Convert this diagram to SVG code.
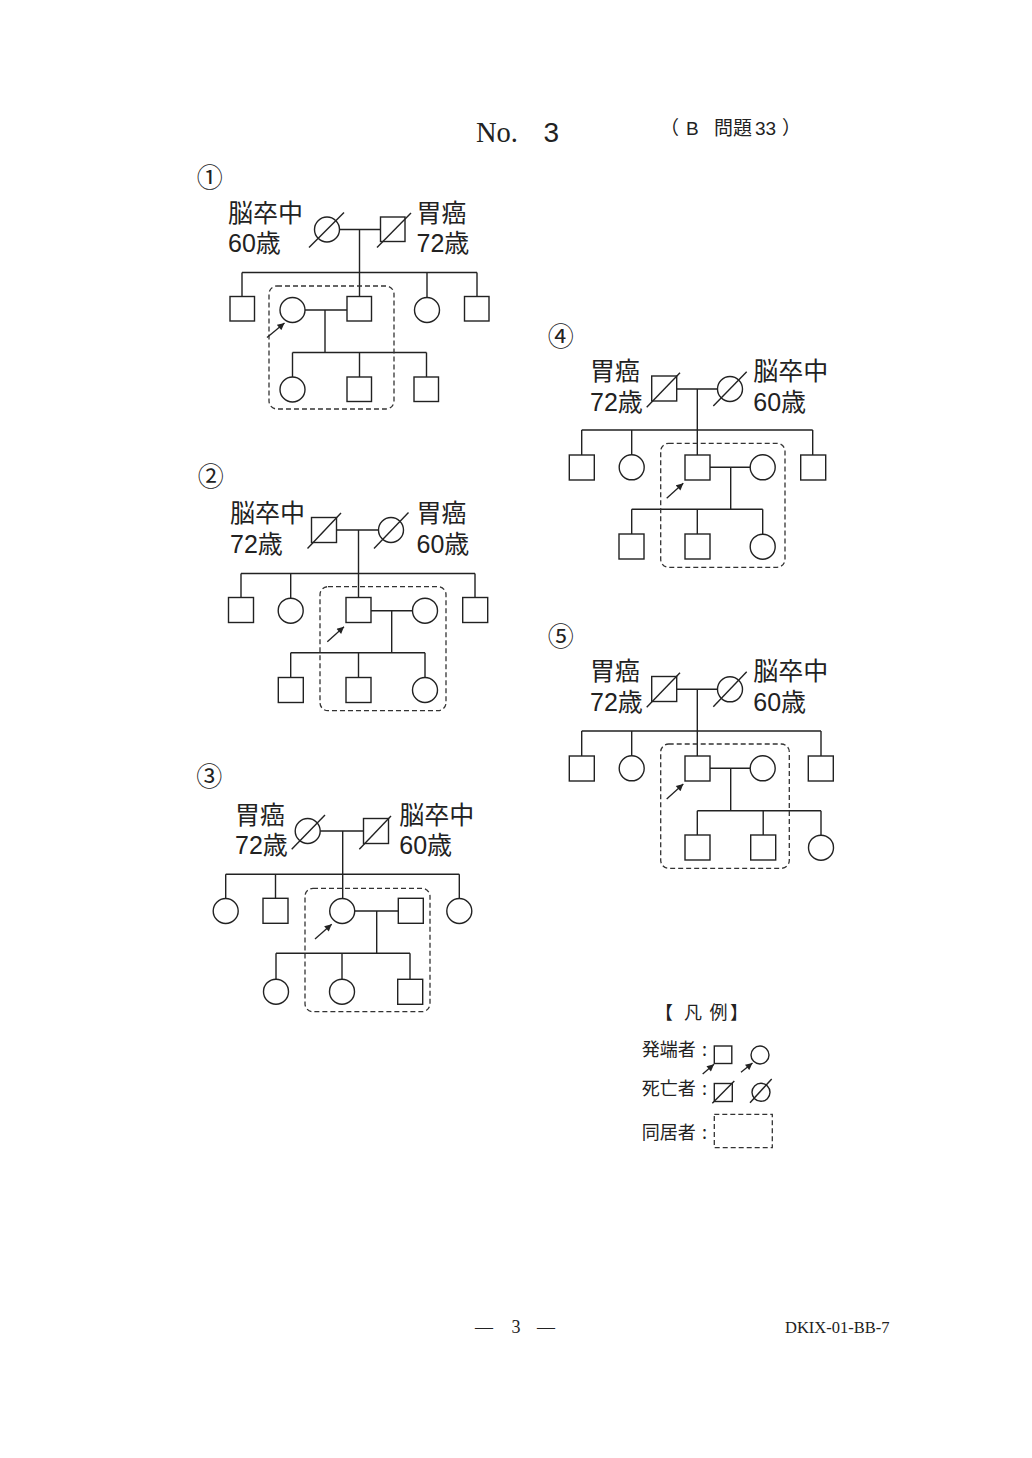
<svg xmlns="http://www.w3.org/2000/svg" width="1032" height="1458" viewBox="0 0 1032 1458">
<style>
.ln{stroke:#222;stroke-width:1.4;fill:none}
.sh{stroke:#222;stroke-width:1.4;fill:#fff}
.dbox{stroke:#333;stroke-width:1.3;fill:none;stroke-dasharray:5 3}
.ar{stroke:#222;stroke-width:1.3;fill:none;marker-end:url(#ah)}
.lbl{font-family:"Liberation Sans","Noto Sans CJK JP",sans-serif;font-size:25px;fill:#222}
.num{font-family:"Noto Sans CJK JP",sans-serif;font-size:26px;fill:#222;text-anchor:middle}
.leg{font-family:"Noto Sans CJK JP",sans-serif;font-size:18px;fill:#222}
.ser{font-family:"Liberation Serif","Noto Serif CJK JP",serif;fill:#222}
.sans{font-family:"Liberation Sans","Noto Sans CJK JP",sans-serif;fill:#222}
</style>
<defs>
<marker id="ah" viewBox="0 0 10 10" refX="10" refY="5" markerWidth="8.5" markerHeight="7" markerUnits="userSpaceOnUse" orient="auto"><path d="M0,0 L10,5 L0,10 z" fill="#222"/></marker>
</defs>
<rect width="1032" height="1458" fill="#fff"/>

<!-- header -->
<g id="header">
<text class="ser" x="476" y="141.5" font-size="30" textLength="42" lengthAdjust="spacingAndGlyphs">No.</text>
<text class="sans" x="543.5" y="141.5" font-size="28">3</text>
<text class="sans" font-size="19" y="135"><tspan x="660">（</tspan><tspan x="686">B</tspan><tspan x="714">問題</tspan><tspan x="755">33</tspan><tspan x="782">）</tspan></text>
</g>

<!-- ============ Diagram 1 ============ -->
<text class="num" x="209.7" y="186.5">①</text>
<g id="d1-labels">
<text class="lbl" x="228" y="221.5">脳卒中</text>
<text class="lbl" x="228" y="252">60歳</text>
<text class="lbl" x="416.5" y="221.5">胃癌</text>
<text class="lbl" x="416.5" y="252">72歳</text>
</g>
<g id="d1-connectors">
<path class="ln" d="M339.5,229.5H380.5M359.5,229.5V272.5M242,272.5H477M242,272.5V296.5M359.5,272.5V296.5M427,272.5V297.5M477,272.5V296.5"/>
<path class="ln" d="M305,310H347M325,310V352.5M292.5,352.5H426.5M292.5,352.5V377M359.5,352.5V377M426.5,352.5V377"/>
<rect class="dbox" x="269" y="286" width="125" height="123" rx="8"/>
<line class="ar" x1="267" y1="337.5" x2="284.5" y2="323"/>
</g>
<g id="d1-mother"><circle class="sh" cx="327" cy="229.5" r="12.5"/><line class="ln" x1="309" y1="247.5" x2="344" y2="212.5"/></g>
<g id="d1-father"><rect class="sh" x="380.5" y="217" width="24.5" height="24.5"/><line class="ln" x1="377" y1="247.5" x2="411" y2="213"/></g>
<g id="d1-c1"><rect class="sh" x="230" y="296.5" width="24.5" height="24.5"/></g>
<g id="d1-proband"><circle class="sh" cx="292.5" cy="310" r="12.5"/></g>
<g id="d1-c2"><rect class="sh" x="347" y="296.5" width="24.5" height="24.5"/></g>
<g id="d1-c3"><circle class="sh" cx="427" cy="310" r="12.5"/></g>
<g id="d1-c4"><rect class="sh" x="464.5" y="296.5" width="24.5" height="24.5"/></g>
<g id="d1-g1"><circle class="sh" cx="292.5" cy="389.5" r="12.5"/></g>
<g id="d1-g2"><rect class="sh" x="347" y="377" width="24.5" height="24.5"/></g>
<g id="d1-g3"><rect class="sh" x="414" y="377" width="24.5" height="24.5"/></g>

<!-- ============ Diagram 2 ============ -->
<text class="num" x="210.7" y="486">②</text>
<g id="d2-labels">
<text class="lbl" x="230" y="522">脳卒中</text>
<text class="lbl" x="230" y="552.5">72歳</text>
<text class="lbl" x="416.5" y="522">胃癌</text>
<text class="lbl" x="416.5" y="552.5">60歳</text>
</g>
<g id="d2-connectors">
<path class="ln" d="M336.5,530H378.5M358.5,530V573.5M241,573.5H475M241,573.5V597.5M290.7,573.5V598.2M358.5,573.5V597.5M475,573.5V597.5"/>
<path class="ln" d="M371,610.7H412.5M391.7,610.7V652.7M290.7,652.7H425M290.7,652.7V677.5M358.5,652.7V677.5M425,652.7V677.5"/>
<rect class="dbox" x="320" y="586.7" width="126" height="124" rx="8"/>
<line class="ar" x1="327.3" y1="641.7" x2="344" y2="626.7"/>
</g>
<g id="d2-father"><rect class="sh" x="311.5" y="517.5" width="25" height="25"/><line class="ln" x1="307.5" y1="548.5" x2="341" y2="513"/></g>
<g id="d2-mother"><circle class="sh" cx="391" cy="530" r="12.5"/><line class="ln" x1="374" y1="548.5" x2="408.5" y2="512.5"/></g>
<g id="d2-c1"><rect class="sh" x="228.5" y="597.5" width="25" height="25"/></g>
<g id="d2-c2"><circle class="sh" cx="290.7" cy="610.7" r="12.5"/></g>
<g id="d2-proband"><rect class="sh" x="346" y="597.5" width="25" height="25"/></g>
<g id="d2-spouse"><circle class="sh" cx="425" cy="610.7" r="12.5"/></g>
<g id="d2-c4"><rect class="sh" x="462.7" y="597.5" width="25" height="25"/></g>
<g id="d2-g1"><rect class="sh" x="278.3" y="677.5" width="25" height="25"/></g>
<g id="d2-g2"><rect class="sh" x="346" y="677.5" width="25" height="25"/></g>
<g id="d2-g3"><circle class="sh" cx="425" cy="690" r="12.5"/></g>

<!-- ============ Diagram 3 ============ -->
<text class="num" x="209.3" y="786">③</text>
<g id="d3-labels">
<text class="lbl" x="235" y="823.5">胃癌</text>
<text class="lbl" x="235" y="853.5">72歳</text>
<text class="lbl" x="399.3" y="823.5">脳卒中</text>
<text class="lbl" x="399.3" y="853.5">60歳</text>
</g>
<g id="d3-connectors">
<path class="ln" d="M320.2,831H363.5M342.7,831V874.3M225.7,874.3H459.3M225.7,874.3V898.5M275.5,874.3V898.3M342.7,874.3V898.5M459.3,874.3V898.5"/>
<path class="ln" d="M354.5,911H398.3M376.7,911V953.3M276,953.3H410M276,953.3V979.2M342,953.3V979.2M410,953.3V979.3"/>
<rect class="dbox" x="305" y="888.3" width="125" height="123.4" rx="8"/>
<line class="ar" x1="315" y1="939" x2="331.7" y2="924.3"/>
</g>
<g id="d3-mother"><circle class="sh" cx="307.7" cy="831" r="12.5"/><line class="ln" x1="291.7" y1="849.3" x2="325" y2="815"/></g>
<g id="d3-father"><rect class="sh" x="363.5" y="818.5" width="25" height="25"/><line class="ln" x1="359.3" y1="849.3" x2="391" y2="816"/></g>
<g id="d3-c1"><circle class="sh" cx="225.7" cy="911" r="12.5"/></g>
<g id="d3-c2"><rect class="sh" x="263" y="898.3" width="25" height="25"/></g>
<g id="d3-proband"><circle class="sh" cx="342.2" cy="911" r="12.5"/></g>
<g id="d3-spouse"><rect class="sh" x="398.3" y="898.3" width="25" height="25"/></g>
<g id="d3-c4"><circle class="sh" cx="459.3" cy="911" r="12.5"/></g>
<g id="d3-g1"><circle class="sh" cx="276" cy="991.7" r="12.5"/></g>
<g id="d3-g2"><circle class="sh" cx="342" cy="991.7" r="12.5"/></g>
<g id="d3-g3"><rect class="sh" x="397.7" y="979.3" width="25" height="25"/></g>

<!-- ============ Diagram 4 ============ -->
<text class="num" x="560.7" y="346">④</text>
<g id="d4-labels">
<text class="lbl" x="590" y="380">胃癌</text>
<text class="lbl" x="590" y="410.5">72歳</text>
<text class="lbl" x="753.3" y="380">脳卒中</text>
<text class="lbl" x="753.3" y="410.5">60歳</text>
</g>
<g id="d4-connectors">
<path class="ln" d="M676.7,389H717.5M697.3,389V430M581.7,430H812.7M581.7,430V455M631.7,430V454.8M697.3,430V455M812.7,430V455"/>
<path class="ln" d="M710,467.3H750.2M730.7,467.3V509.3M631.7,509.3H762.7M631.7,509.3V534M697.3,509.3V534M762.7,509.3V534.2"/>
<rect class="dbox" x="660.7" y="443.3" width="124.3" height="124" rx="8"/>
<line class="ar" x1="666.7" y1="498.3" x2="683.3" y2="483.3"/>
</g>
<g id="d4-father"><rect class="sh" x="651.7" y="376" width="25" height="25"/><line class="ln" x1="646.7" y1="407.3" x2="680" y2="372.7"/></g>
<g id="d4-mother"><circle class="sh" cx="730" cy="389" r="12.5"/><line class="ln" x1="713.3" y1="406" x2="746.7" y2="371.7"/></g>
<g id="d4-c1"><rect class="sh" x="569.3" y="455" width="25" height="25"/></g>
<g id="d4-c2"><circle class="sh" cx="631.7" cy="467.3" r="12.5"/></g>
<g id="d4-proband"><rect class="sh" x="685" y="455" width="25" height="25"/></g>
<g id="d4-spouse"><circle class="sh" cx="762.7" cy="467.3" r="12.5"/></g>
<g id="d4-c4"><rect class="sh" x="800.7" y="455" width="25" height="25"/></g>
<g id="d4-g1"><rect class="sh" x="619" y="534" width="25" height="25"/></g>
<g id="d4-g2"><rect class="sh" x="685" y="534" width="25" height="25"/></g>
<g id="d4-g3"><circle class="sh" cx="762.7" cy="546.7" r="12.5"/></g>

<!-- ============ Diagram 5 ============ -->
<text class="num" x="560.7" y="646">⑤</text>
<g id="d5-labels">
<text class="lbl" x="590" y="680">胃癌</text>
<text class="lbl" x="590" y="710.5">72歳</text>
<text class="lbl" x="753.3" y="680">脳卒中</text>
<text class="lbl" x="753.3" y="710.5">60歳</text>
</g>
<g id="d5-connectors">
<path class="ln" d="M676.7,689.3H717.5M697.3,689.3V731M581.7,731H821M581.7,731V756M631.7,731V755.8M697.3,731V756M821,731V756"/>
<path class="ln" d="M710,768.3H750.2M730.7,768.3V810.7M697.3,810.7H821M697.3,810.7V835M763.2,810.7V835M821,810.7V835.2"/>
<rect class="dbox" x="660.7" y="744" width="128.6" height="124.3" rx="8"/>
<line class="ar" x1="666.7" y1="799" x2="683.3" y2="784"/>
</g>
<g id="d5-father"><rect class="sh" x="651.7" y="676.5" width="25" height="25"/><line class="ln" x1="646.7" y1="707.3" x2="680" y2="672.7"/></g>
<g id="d5-mother"><circle class="sh" cx="730" cy="689.3" r="12.5"/><line class="ln" x1="713.3" y1="706.7" x2="746.7" y2="671.7"/></g>
<g id="d5-c1"><rect class="sh" x="569.3" y="756" width="25" height="25"/></g>
<g id="d5-c2"><circle class="sh" cx="631.7" cy="768.3" r="12.5"/></g>
<g id="d5-proband"><rect class="sh" x="685" y="756" width="25" height="25"/></g>
<g id="d5-spouse"><circle class="sh" cx="762.7" cy="768.3" r="12.5"/></g>
<g id="d5-c4"><rect class="sh" x="808.3" y="756" width="25" height="25"/></g>
<g id="d5-g1"><rect class="sh" x="685" y="835" width="25" height="25"/></g>
<g id="d5-g2"><rect class="sh" x="750.7" y="835" width="25" height="25"/></g>
<g id="d5-g3"><circle class="sh" cx="821" cy="847.7" r="12.5"/></g>

<!-- ============ Legend ============ -->
<g id="legend">
<text class="leg" y="1019"><tspan x="655">【</tspan><tspan x="684">凡</tspan><tspan x="709.5">例</tspan><tspan x="730">】</tspan></text>
<text class="leg" x="641.7" y="1055.5">発端者<tspan x="702">:</tspan></text>
<rect class="sh" x="714.3" y="1046" width="17.5" height="17.5" stroke-width="1.2"/>
<circle class="sh" cx="760" cy="1055" r="9" stroke-width="1.2"/>
<line class="ar" x1="702.7" y1="1074" x2="714" y2="1064.3" stroke-width="1.1"/>
<line class="ar" x1="741" y1="1072.3" x2="752.5" y2="1063" stroke-width="1.1"/>
<text class="leg" x="641.7" y="1095">死亡者<tspan x="702">:</tspan></text>
<rect class="sh" x="714.3" y="1083.5" width="18" height="18" stroke-width="1.2"/>
<line class="ln" x1="712.3" y1="1103.3" x2="734.3" y2="1081" stroke-width="1.2"/>
<circle class="sh" cx="761" cy="1092.3" r="9" stroke-width="1.2"/>
<line class="ln" x1="750" y1="1102.7" x2="771.7" y2="1079" stroke-width="1.2"/>
<text class="leg" x="641.7" y="1139">同居者<tspan x="702">:</tspan></text>
<rect class="dbox" x="714.3" y="1114.3" width="58" height="33.4"/>
</g>

<!-- footer -->
<g id="footer">
<text class="ser" font-size="18" y="1333"><tspan x="475">—</tspan><tspan x="511.5">3</tspan><tspan x="537">—</tspan></text>
<text class="ser" x="785" y="1333" font-size="16.5">DKIX-01-BB-7</text>
</g>
</svg>
